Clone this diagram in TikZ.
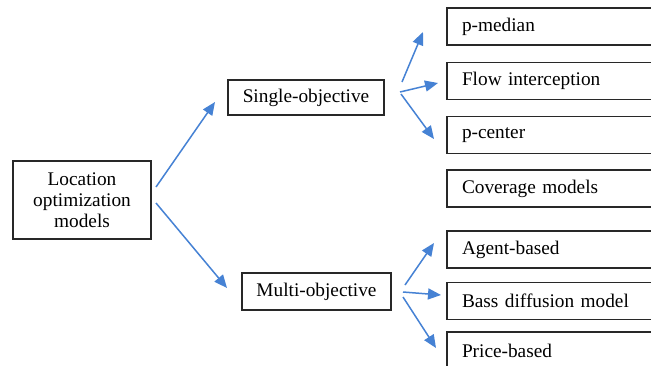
\documentclass[tikz,border=0pt]{standalone}
\usepackage{fontspec}
\setmainfont{Liberation Serif}
\usetikzlibrary{arrows.meta}
\definecolor{arrowblue}{RGB}{70,130,212}
\definecolor{boxline}{RGB}{40,40,40}
\begin{document}
\begin{tikzpicture}[x=1pt,y=-1pt,
  box/.style={draw=boxline,line width=1.2pt,fill=white,inner sep=0pt,
    font=\fontsize{19.3}{21}\selectfont,align=center},
  leaf/.style={box,minimum width=223pt,minimum height=37pt,text width=193pt,align=left},
  conn/.style={draw=arrowblue,line width=1.5pt,-{Triangle[length=13pt,width=11pt]}}]
\clip (0,0) rectangle (651,365);
\fill[white] (0,0) rectangle (651,365);
\node[box,minimum width=138pt,minimum height=78pt] (loc) at (82,200) {Location\\optimization\\models};
\node[box,minimum width=156pt,minimum height=35pt] (single) at (306,97.5) {Single-objective};
\node[box,minimum width=149pt,minimum height=37pt] (multi) at (316.5,291.5) {Multi-objective};
\node[leaf] (pmed) at (558.5,26.5) {p-median};
\node[leaf] (flow) at (558.5,81) {Flow interception};
\node[leaf] (pcen) at (558.5,135) {p-center};
\node[leaf] (cov) at (558.5,188.5) {Coverage models};
\node[leaf] (agent) at (558.5,249.5) {Agent-based};
\node[leaf] (bass) at (558.5,301) {Bass diffusion model};
\node[leaf] (price) at (558.5,350.5) {Price-based};
% connector end points
\coordinate (l1) at (156,187); \coordinate (s0) at (215,102);
\coordinate (l2) at (156,203); \coordinate (m0) at (227,288);
\coordinate (s1) at (402,82);  \coordinate (pm) at (423,32);
\coordinate (s2) at (400,92);  \coordinate (fl) at (438,83);
\coordinate (s3) at (401,94);  \coordinate (pc) at (434,139);
\coordinate (m1) at (405,285); \coordinate (ag) at (434,243);
\coordinate (m2) at (403,292); \coordinate (ba) at (441,295);
\coordinate (m3) at (403,297); \coordinate (pr) at (436,348);
\draw[conn] (l1) -- (s0);
\draw[conn] (l2) -- (m0);
\draw[conn] (s1) -- (pm);
\draw[conn] (s2) -- (fl);
\draw[conn] (s3) -- (pc);
\draw[conn] (m1) -- (ag);
\draw[conn] (m2) -- (ba);
\draw[conn] (m3) -- (pr);
\end{tikzpicture}
\end{document}
